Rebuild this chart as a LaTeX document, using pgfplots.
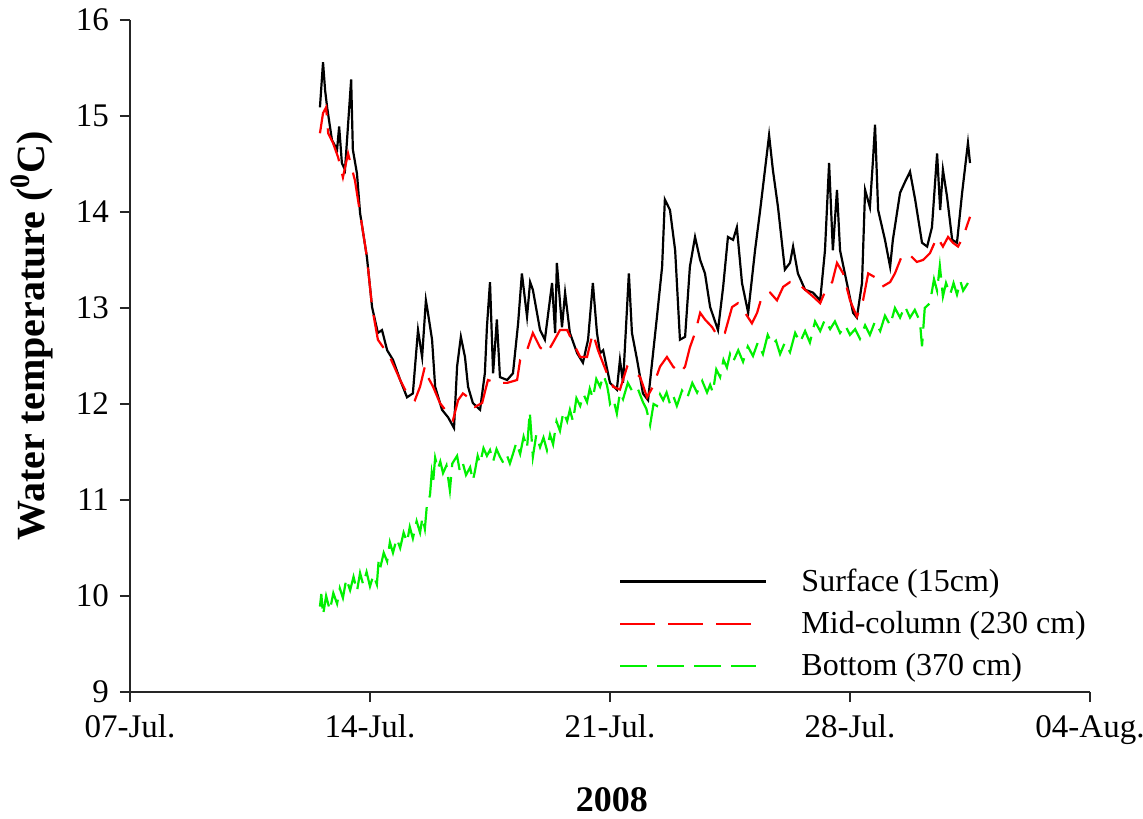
\documentclass[border=0pt]{standalone}
\usepackage{fontspec}
\setmainfont{Liberation Serif}
\usepackage{pgfplots}
\pgfplotsset{compat=1.18}
\definecolor{surf}{HTML}{000000}
\definecolor{mid}{HTML}{FF0000}
\definecolor{bot}{HTML}{00F000}
\pgfplotsset{
  legimg/.style={legend image code/.code={\draw[##1] (0pt,0pt) -- (#1,0pt); \path (88pt,0pt);}}
}

\begin{document}
\begin{tikzpicture}
\begin{axis}[
  scale only axis,
  width=480pt,
  height=336pt,
  xmin=0,xmax=28,
  ymin=9,ymax=16,
  xtick={0,7,14,21,28},
  xticklabels={07-Jul.,14-Jul.,21-Jul.,28-Jul.,04-Aug.},
  ytick={9,10,11,12,13,14,15,16},
  axis lines*=left,
  axis line style={line width=0.9pt,black!85},
  tick align=outside,
  major tick length=5pt,
  tick style={line width=0.9pt,black!85},
  /pgf/number format/assume math mode=true,
  ticklabel style={font=\fontsize{16.5}{18}\selectfont},
  xticklabel style={yshift=-3pt},
  yticklabel style={xshift=-2pt},
  xlabel={\textbf{2008}},
  xlabel style={font=\fontsize{18}{20}\selectfont,at={(axis description cs:0.502,-0.161)},anchor=center},
  ylabel={\textbf{Water temperature (\textsuperscript{0}C)}},
  ylabel style={font=\fontsize{20}{22}\selectfont,at={(axis description cs:-0.102,0.53)},anchor=center},
  legend style={
    draw=none,fill=none,
    at={(0.503,0.196)},anchor=north west,
    font=\fontsize{16}{19}\selectfont,
    row sep=4.5pt,
    legend cell align=left
  },
  legimg=73pt,
]
\addplot[color=surf,line width=1.1pt] coordinates {
(5.54,15.09) (5.63,15.56) (5.69,15.27) (5.75,15.09) (5.89,14.75) (6.04,14.65)
(6.10,14.89) (6.18,14.51) (6.27,14.44) (6.33,14.75) (6.45,15.38) (6.50,14.65)
(6.62,14.40) (6.71,13.99) (6.91,13.53) (7.06,13.01) (7.23,12.74) (7.35,12.77)
(7.50,12.56) (7.67,12.46) (7.88,12.25) (8.08,12.07) (8.25,12.11) (8.40,12.77)
(8.52,12.49) (8.63,13.08) (8.69,12.95) (8.81,12.67) (8.90,12.18) (9.10,11.94)
(9.28,11.86) (9.45,11.75) (9.54,12.39) (9.65,12.70) (9.77,12.49) (9.86,12.18)
(10.00,12.01) (10.21,11.94) (10.35,12.32) (10.41,12.80) (10.50,13.27) (10.59,12.32)
(10.70,12.88) (10.79,12.28) (11.00,12.25) (11.17,12.32) (11.32,12.84) (11.43,13.36)
(11.58,12.91) (11.67,13.27) (11.75,13.19) (11.96,12.77) (12.10,12.67) (12.31,13.26)
(12.40,12.74) (12.45,13.47) (12.60,12.80) (12.69,13.16) (12.83,12.74) (13.04,12.53)
(13.21,12.43) (13.36,12.67) (13.50,13.26) (13.62,12.74) (13.71,12.53) (13.80,12.56)
(14.00,12.22) (14.20,12.15) (14.29,12.46) (14.38,12.22) (14.55,13.36) (14.64,12.74)
(14.79,12.46) (14.96,12.11) (15.11,12.04) (15.37,12.91) (15.52,13.43) (15.60,14.13)
(15.75,14.02) (15.90,13.60) (16.04,12.67) (16.19,12.70) (16.33,13.43) (16.48,13.74)
(16.63,13.50) (16.77,13.36) (16.92,13.01) (17.15,12.77) (17.30,13.22) (17.44,13.74)
(17.59,13.71) (17.70,13.84) (17.85,13.26) (18.03,12.95) (18.23,13.60) (18.38,14.02)
(18.52,14.44) (18.64,14.80) (18.75,14.44) (18.90,14.05) (19.10,13.40) (19.25,13.47)
(19.34,13.64) (19.48,13.36) (19.69,13.19) (19.92,13.16) (20.13,13.08) (20.27,13.60)
(20.39,14.51) (20.50,13.60) (20.62,14.23) (20.71,13.60) (20.85,13.36) (21.09,12.95)
(21.20,12.90) (21.35,13.26) (21.44,14.23) (21.58,14.05) (21.67,14.54) (21.73,14.91)
(21.82,14.02) (22.02,13.71) (22.17,13.43) (22.25,13.71) (22.46,14.20) (22.60,14.31)
(22.75,14.42) (22.90,14.13) (23.10,13.68) (23.25,13.64) (23.39,13.84) (23.54,14.61)
(23.63,14.02) (23.71,14.44) (23.83,14.16) (23.98,13.71) (24.12,13.68) (24.27,14.20)
(24.44,14.72) (24.50,14.51)
};
\addlegendentry{Surface (15cm)}
\addplot[color=mid,line width=1.1pt,dash pattern=on 17.5pt off 6.5pt,legimg=65.5pt] coordinates {
(5.54,14.82) (5.63,15.03) (5.72,15.09) (5.78,14.82) (5.92,14.72) (6.07,14.57)
(6.21,14.36) (6.36,14.61) (6.48,14.44) (6.56,14.33) (6.71,13.99) (6.91,13.53)
(7.06,13.01) (7.23,12.67) (7.58,12.49) (7.88,12.25) (8.08,12.11) (8.31,12.04)
(8.46,12.18) (8.60,12.39) (8.69,12.28) (8.84,12.18) (9.04,12.01) (9.28,11.90)
(9.42,11.83) (9.57,12.04) (9.71,12.11) (9.86,12.07) (10.06,11.97) (10.27,12.01)
(10.44,12.25) (10.70,12.22) (11.00,12.22) (11.29,12.25) (11.38,12.46) (11.58,12.56)
(11.75,12.74) (11.96,12.59) (12.16,12.53) (12.34,12.64) (12.54,12.77) (12.75,12.77)
(12.92,12.64) (13.13,12.49) (13.33,12.49) (13.50,12.74) (13.65,12.56) (13.91,12.32)
(14.09,12.18) (14.29,12.15) (14.50,12.39) (14.67,12.35) (14.88,12.28) (15.08,12.07)
(15.25,12.18) (15.46,12.39) (15.66,12.49) (15.84,12.39) (16.04,12.32) (16.19,12.39)
(16.33,12.59) (16.48,12.74) (16.63,12.95) (16.77,12.88) (16.98,12.80) (17.15,12.70)
(17.35,12.74) (17.56,13.01) (17.73,13.05) (17.94,12.95) (18.14,12.84) (18.29,12.95)
(18.43,13.12) (18.67,13.16) (18.87,13.08) (19.05,13.22) (19.25,13.27) (19.45,13.27)
(19.69,13.19) (19.92,13.12) (20.13,13.05) (20.33,13.22) (20.48,13.27) (20.62,13.47)
(20.80,13.36) (21.00,13.08) (21.20,12.91) (21.38,13.08) (21.53,13.36) (21.73,13.32)
(21.93,13.22) (22.17,13.27) (22.31,13.36) (22.52,13.55) (22.75,13.55) (22.95,13.48)
(23.13,13.50) (23.33,13.57) (23.54,13.74) (23.71,13.64) (23.86,13.74) (24.00,13.68)
(24.15,13.64) (24.30,13.74) (24.50,13.95)
};
\addlegendentry{Mid-column (230 cm)}
\addplot[color=bot,line width=1.1pt,dash pattern=on 13.5pt off 5pt,legimg=68pt] coordinates {
(5.54,9.89) (5.58,10.02) (5.63,9.80) (5.72,10.00) (5.83,9.85) (5.93,10.03)
(6.04,9.92) (6.12,10.08) (6.21,9.98) (6.31,10.18) (6.42,10.06) (6.52,10.20)
(6.62,10.05) (6.71,10.24) (6.80,10.12) (6.90,10.25) (7.00,10.10) (7.10,10.22)
(7.20,10.12) (7.25,10.36) (7.29,10.28) (7.40,10.45) (7.50,10.36) (7.58,10.56)
(7.67,10.45) (7.78,10.60) (7.88,10.50) (7.98,10.66) (8.08,10.56) (8.16,10.72)
(8.25,10.60) (8.36,10.78) (8.46,10.66) (8.53,10.82) (8.60,10.70) (8.66,10.95)
(8.75,11.05) (8.80,11.28) (8.84,11.18) (8.90,11.44) (8.98,11.32) (9.05,11.40)
(9.13,11.28) (9.23,11.36) (9.33,11.10) (9.40,11.38) (9.54,11.46) (9.62,11.30)
(9.71,11.38) (9.80,11.26) (9.92,11.34) (10.00,11.20) (10.06,11.30) (10.14,11.46)
(10.21,11.38) (10.31,11.54) (10.41,11.46) (10.50,11.52) (10.59,11.40) (10.69,11.53)
(10.79,11.45) (10.90,11.38) (11.00,11.46) (11.08,11.38) (11.17,11.48) (11.27,11.60)
(11.38,11.48) (11.48,11.66) (11.58,11.54) (11.66,11.92) (11.75,11.45) (11.85,11.68)
(11.96,11.55) (12.06,11.65) (12.16,11.52) (12.25,11.68) (12.34,11.58) (12.44,11.82)
(12.54,11.72) (12.64,11.92) (12.75,11.82) (12.83,11.94) (12.92,11.82) (13.02,12.06)
(13.13,11.98) (13.23,12.10) (13.33,12.02) (13.41,12.16) (13.50,12.06) (13.60,12.26)
(13.71,12.18) (13.81,12.30) (13.91,12.20) (13.96,12.10) (14.00,12.00) (14.10,12.05)
(14.20,11.90) (14.29,12.12) (14.38,12.05) (14.52,12.22) (14.67,12.12) (14.81,12.16)
(14.96,12.02) (15.06,11.95) (15.17,11.78) (15.27,12.00) (15.37,11.98) (15.46,12.10)
(15.55,12.04) (15.65,12.12) (15.75,12.00) (15.85,12.08) (15.95,11.98) (16.10,12.14)
(16.25,12.06) (16.40,12.22) (16.54,12.12) (16.69,12.24) (16.83,12.12) (16.92,12.20)
(17.00,12.12) (17.10,12.36) (17.21,12.28) (17.31,12.46) (17.41,12.38) (17.50,12.52)
(17.59,12.44) (17.74,12.56) (17.88,12.44) (18.02,12.60) (18.17,12.50) (18.31,12.64)
(18.46,12.52) (18.60,12.72) (18.73,12.62) (18.84,12.66) (18.96,12.52) (19.10,12.64)
(19.25,12.54) (19.40,12.74) (19.54,12.64) (19.69,12.76) (19.83,12.64) (19.98,12.86)
(20.13,12.76) (20.27,12.88) (20.42,12.78) (20.56,12.86) (20.71,12.74) (20.86,12.82)
(21.00,12.72) (21.15,12.78) (21.29,12.68) (21.44,12.82) (21.58,12.72) (21.73,12.86)
(21.88,12.76) (22.02,12.92) (22.17,12.82) (22.31,13.00) (22.46,12.90) (22.60,13.02)
(22.75,12.90) (22.89,12.98) (23.04,12.86) (23.10,12.60) (23.18,13.00) (23.33,13.05)
(23.45,13.30) (23.54,13.18) (23.62,13.44) (23.71,13.12) (23.80,13.26) (23.92,13.14)
(24.02,13.26) (24.12,13.14) (24.22,13.28) (24.30,13.18) (24.44,13.26)
};
\addlegendentry{Bottom (370 cm)}
\end{axis}
\pgfresetboundingbox
\path (current axis.south west) ++(-65pt,-63pt) coordinate (bbl);
\path (current axis.north east) ++(26.5pt,10pt) coordinate (btr);
\path (bbl) rectangle (btr);
\end{tikzpicture}
\end{document}
